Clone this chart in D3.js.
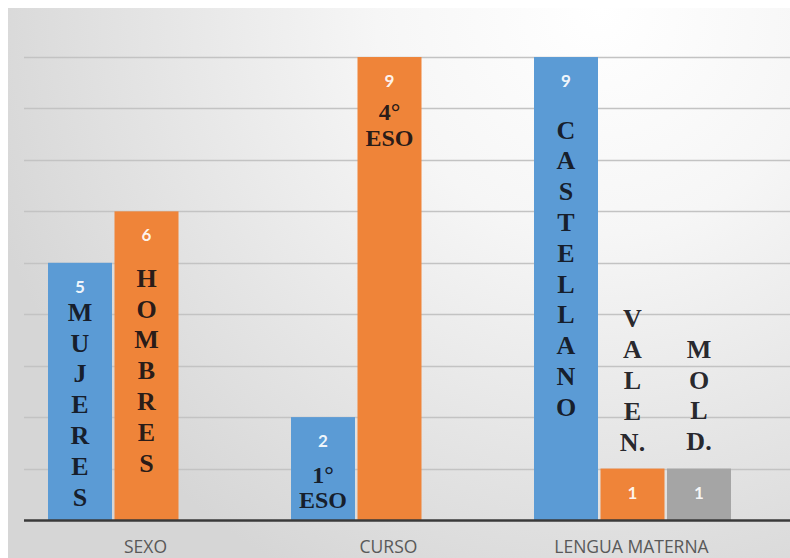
<!DOCTYPE html>
<html>
<head>
<meta charset="utf-8">
<script src="https://cdn.jsdelivr.net/npm/d3@7/dist/d3.min.js"></script>
<style>
  html, body { margin: 0; padding: 0; background: #fff; }
  svg { display: block; }
</style>
</head>
<body>
<svg id="chart" width="790" height="558"></svg>
<script>
// Categories along the x axis
const categories = ["SEXO", "CURSO", "LENGUA MATERNA"];

// Three series: first, second and third bar of each category
const series1 = [5, 2, 9];
const series2 = [6, 9, 1];
const series3 = [null, null, 1];

// Written labels for each bar (one entry per line of text)
const notes1 = [
  ["M", "U", "J", "E", "R", "E", "S"],
  ["1°", "ESO"],
  ["C", "A", "S", "T", "E", "L", "L", "A", "N", "O"]
];
const notes2 = [
  ["H", "O", "M", "B", "R", "E", "S"],
  ["4°", "ESO"],
  ["V", "A", "L", "E", "N."]
];
const notes3 = [
  null,
  null,
  ["M", "O", "L", "D."]
];

// Value on the y axis where each written label's first line sits
const notesAt1 = [4.04, 0.875, 7.58];
const notesAt2 = [4.70, 7.93, 3.91];
const notesAt3 = [null, null, 3.32];

const yTicks = [1, 2, 3, 4, 5, 6, 7, 8, 9];

const seriesValues = [series1, series2, series3];
const seriesNotes = [notes1, notes2, notes3];
const seriesNotesAt = [notesAt1, notesAt2, notesAt3];
const seriesKeys = ["s1", "s2", "s3"];
const colors = ["#5b9bd5", "#ef8439", "#a5a5a5"];

const W = 790, H = 558;
const svg = d3.select("#chart");

// Background panel with a soft radial shading
const defs = svg.append("defs");
const grad = defs.append("radialGradient")
  .attr("id", "bg")
  .attr("gradientUnits", "userSpaceOnUse")
  .attr("cx", 600).attr("cy", 10).attr("r", 640);
grad.append("stop").attr("offset", "0%").attr("stop-color", "#ffffff");
grad.append("stop").attr("offset", "35%").attr("stop-color", "#f6f6f6");
grad.append("stop").attr("offset", "100%").attr("stop-color", "#d6d6d6");

svg.append("rect").attr("width", W).attr("height", H).attr("fill", "#ffffff");
svg.append("rect")
  .attr("x", 8).attr("y", 8).attr("width", W - 8).attr("height", H - 8)
  .attr("fill", "url(#bg)");

// Scales: category bands, series slots inside each band, and values
const x0 = d3.scaleBand().domain(categories).range([24, 753]).padding(0);
const x1 = d3.scaleBand().domain(seriesKeys)
  .range([24, 24 + 197]).paddingInner(0.0376).paddingOuter(0);
const y = d3.scaleLinear().domain([0, 10]).range([520, 520 - 514.4]);

// Horizontal gridlines
svg.append("g").selectAll("line")
  .data(yTicks)
  .join("line")
  .attr("x1", 24).attr("x2", W)
  .attr("y1", d => Math.round(y(d)) + 0.5)
  .attr("y2", d => Math.round(y(d)) + 0.5)
  .attr("stroke", "#c3c3c3")
  .attr("stroke-width", 1.4);

// Flattened bar records
const bars = [];
seriesKeys.forEach((k, si) => {
  categories.forEach((c, ci) => {
    const v = seriesValues[si][ci];
    if (v == null) return;
    bars.push({
      key: k, si, cat: c, value: v,
      note: seriesNotes[si][ci],
      noteAt: seriesNotesAt[si][ci]
    });
  });
});

const barX = d => x0(d.cat) + x1(d.key);

// Bars
svg.append("g").selectAll("rect")
  .data(bars)
  .join("rect")
  .attr("x", barX)
  .attr("y", d => y(d.value))
  .attr("width", x1.bandwidth())
  .attr("height", d => y(0) - y(d.value))
  .attr("fill", d => colors[d.si]);

// Axis baseline
svg.append("line")
  .attr("x1", 24).attr("x2", W)
  .attr("y1", 520.5).attr("y2", 520.5)
  .attr("stroke", "#3a3a3a")
  .attr("stroke-width", 2.5);

// Value labels inside the top of each bar
svg.append("g").selectAll("text")
  .data(bars)
  .join("text")
  .attr("x", d => barX(d) + x1.bandwidth() / 2)
  .attr("y", d => y(d.value) + 24 + 6)
  .attr("text-anchor", "middle")
  .attr("font-family", "Lato, 'Open Sans', sans-serif")
  .attr("font-weight", "bold")
  .attr("font-size", 17)
  .attr("fill", "#ffffff")
  .attr("fill-opacity", 0.92)
  .text(d => d.value);

// Written labels, one line per row
const noteGroup = svg.append("g");
bars.filter(d => d.note).forEach(d => {
  const stacked = d.note.length > 2;
  const fs = stacked ? 26 : 24;
  const lh = stacked ? 30.8 : 25.5;
  const cx = barX(d) + x1.bandwidth() / 2;
  const top = y(d.noteAt);
  d.note.forEach((line, i) => {
    noteGroup.append("text")
      .attr("x", cx)
      .attr("y", top + i * lh + fs * 0.662 / 2)
      .attr("text-anchor", "middle")
      .attr("font-family", "'Liberation Serif', 'Times New Roman', serif")
      .attr("font-weight", "bold")
      .attr("font-size", fs)
      .attr("fill", "#0e0e14")
      .attr("fill-opacity", 0.9)
      .text(line);
  });
});

// Category labels under the axis
svg.append("g").selectAll("text")
  .data(categories)
  .join("text")
  .attr("x", d => x0(d) + x0.bandwidth() / 2)
  .attr("y", 553)
  .attr("text-anchor", "middle")
  .attr("font-family", "'Open Sans', sans-serif")
  .attr("font-size", 17.5)
  .attr("fill", "#595959")
  .text(d => d);
</script>
</body>
</html>
